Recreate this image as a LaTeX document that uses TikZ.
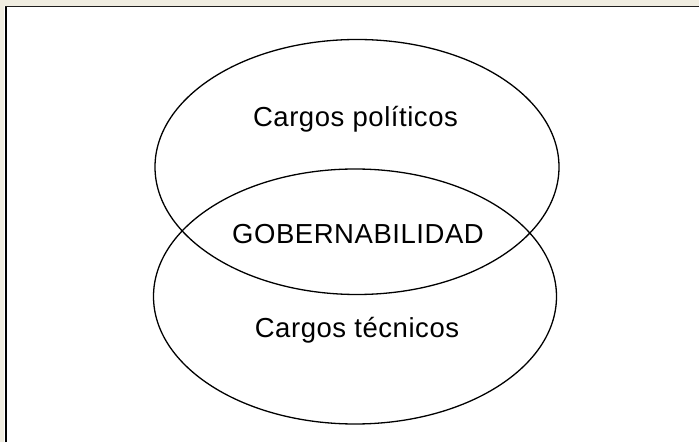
\documentclass[tikz,border=0pt]{standalone}
\usepackage{fontspec}
\setmainfont{Liberation Sans}[LetterSpace=2]
\definecolor{bgbeige}{RGB}{240,237,225}
\definecolor{framedark}{RGB}{30,30,30}
\begin{document}
\begin{tikzpicture}[x=1pt,y=1pt,
  ell/.style={draw=black,line width=1.3pt},
  lbl/.style={font=\fontsize{27.5}{32}\selectfont,anchor=base,inner sep=0pt}]
\useasboundingbox (0,0) rectangle (699,442);
\fill[bgbeige] (0,0) rectangle (699,442);
\fill[white] (4,0) rectangle (699,435.5);
\draw[line width=1.6pt,black] (6.2,0) -- (6.2,435.3);
\draw[line width=1.6pt,framedark] (5.4,435.3) -- (699,435.3);
\draw[ell] (357,442-167) ellipse [x radius=202, y radius=127.5];
\draw[ell] (355,442-296.5) ellipse [x radius=201.5, y radius=127.5];
\node[lbl] (pol) at (355.5,442-127) {Cargos políticos};
\node[lbl] (gob) at (358,442-244) {GOBERNABILIDAD};
\node[lbl] (tec) at (357,442-338) {Cargos técnicos};
\end{tikzpicture}
\end{document}
